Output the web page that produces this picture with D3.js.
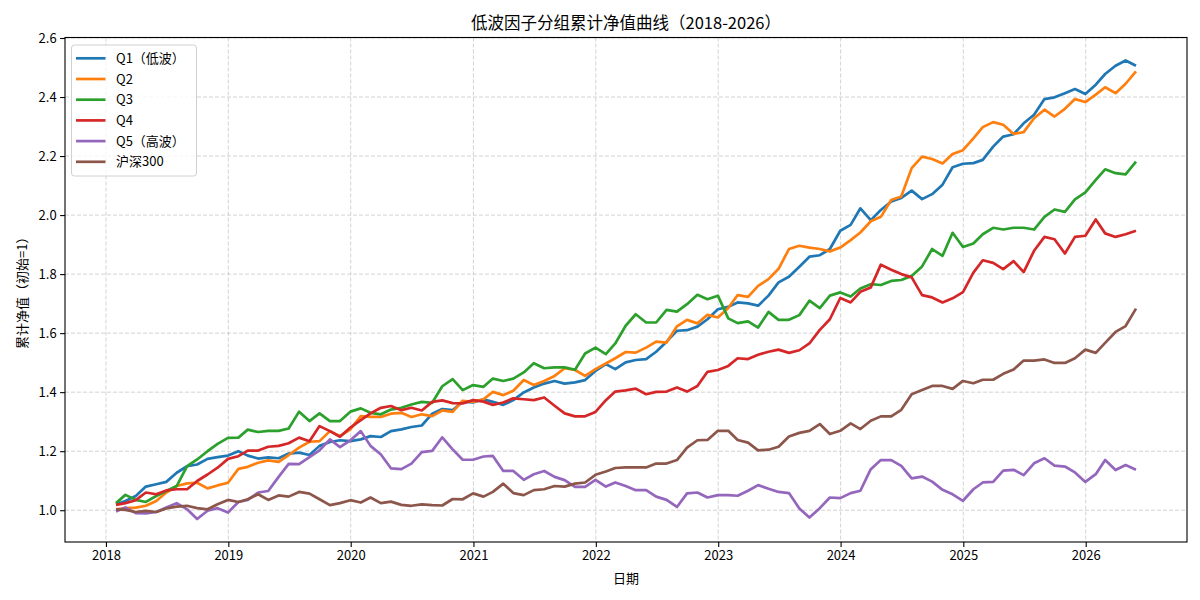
<!DOCTYPE html>
<html><head><meta charset="utf-8">
<script src="https://cdn.jsdelivr.net/npm/d3@7"></script>
<style>
body{margin:0;background:#fff;}
svg{display:block;font-family:"Noto Sans CJK SC","Noto Sans",sans-serif;}
</style></head><body>
<svg id="chart" width="1200" height="600"></svg>
<script>
// ---- data (month-end values, 2018-01 .. 2026-05) ----
const startYear = 2018, startMonthIndex = 0, monthCount = 101;
const q1 = [1.020,1.031,1.048,1.080,1.088,1.096,1.127,1.149,1.155,1.174,1.180,1.185,1.200,1.185,1.175,1.179,1.176,1.192,1.195,1.187,
1.218,1.231,1.237,1.234,1.240,1.251,1.248,1.268,1.274,1.282,1.287,1.327,1.343,1.339,1.368,1.365,1.376,1.367,1.357,1.373,
1.399,1.416,1.429,1.438,1.429,1.433,1.441,1.472,1.495,1.478,1.501,1.509,1.512,1.537,1.571,1.608,1.610,1.622,1.647,1.681,
1.689,1.704,1.701,1.693,1.727,1.772,1.791,1.825,1.859,1.864,1.885,1.947,1.967,2.023,1.983,2.017,2.046,2.058,2.083,2.054,
2.071,2.103,2.162,2.174,2.176,2.187,2.232,2.266,2.274,2.311,2.340,2.393,2.399,2.413,2.427,2.410,2.442,2.478,2.506,2.524,2.506];
const q2 = [1.003,1.007,1.009,1.015,1.031,1.060,1.082,1.091,1.093,1.074,1.084,1.093,1.140,1.147,1.161,1.169,1.164,1.187,1.212,1.232,
1.234,1.268,1.251,1.274,1.319,1.316,1.316,1.327,1.330,1.316,1.325,1.319,1.338,1.333,1.371,1.367,1.376,1.401,1.390,1.405,
1.441,1.424,1.438,1.455,1.481,1.475,1.455,1.478,1.497,1.515,1.536,1.534,1.551,1.571,1.568,1.623,1.645,1.633,1.662,1.653,
1.685,1.729,1.723,1.760,1.783,1.818,1.885,1.896,1.890,1.885,1.877,1.890,1.915,1.941,1.979,1.994,2.051,2.063,2.159,2.198,
2.190,2.175,2.207,2.220,2.260,2.298,2.315,2.306,2.275,2.281,2.328,2.357,2.334,2.360,2.393,2.383,2.408,2.433,2.413,2.445,2.487];
const q3 = [1.024,1.052,1.035,1.028,1.048,1.065,1.082,1.149,1.172,1.200,1.225,1.245,1.246,1.273,1.265,1.269,1.269,1.277,1.334,1.302,
1.328,1.302,1.302,1.334,1.345,1.330,1.325,1.341,1.347,1.358,1.367,1.364,1.420,1.444,1.407,1.424,1.418,1.446,1.438,1.446,
1.467,1.498,1.481,1.484,1.484,1.476,1.531,1.551,1.529,1.565,1.625,1.664,1.636,1.636,1.679,1.673,1.698,1.730,1.715,1.727,
1.650,1.634,1.640,1.619,1.672,1.645,1.645,1.661,1.710,1.685,1.727,1.738,1.724,1.751,1.766,1.763,1.777,1.780,1.794,1.826,
1.885,1.862,1.940,1.892,1.904,1.935,1.957,1.951,1.957,1.957,1.951,1.994,2.019,2.011,2.053,2.077,2.119,2.155,2.142,2.138,2.181];
const q4 = [1.018,1.024,1.034,1.060,1.054,1.067,1.071,1.071,1.099,1.121,1.144,1.174,1.183,1.202,1.202,1.215,1.218,1.227,1.246,1.234,
1.285,1.268,1.249,1.280,1.305,1.328,1.347,1.353,1.339,1.347,1.338,1.367,1.372,1.363,1.362,1.373,1.368,1.357,1.365,1.379,
1.376,1.373,1.382,1.354,1.328,1.318,1.318,1.333,1.373,1.402,1.406,1.412,1.393,1.401,1.402,1.416,1.402,1.421,1.469,1.475,
1.489,1.515,1.512,1.527,1.537,1.544,1.533,1.542,1.565,1.611,1.647,1.719,1.704,1.740,1.755,1.832,1.815,1.800,1.789,1.729,
1.721,1.704,1.718,1.739,1.805,1.847,1.838,1.817,1.844,1.807,1.879,1.926,1.918,1.870,1.926,1.930,1.985,1.938,1.926,1.935,1.947];
const q5 = [0.996,1.009,0.990,0.989,0.994,1.009,1.024,1.003,0.970,0.998,1.007,0.992,1.028,1.035,1.060,1.065,1.113,1.157,1.156,1.180,
1.203,1.240,1.214,1.237,1.268,1.218,1.189,1.142,1.139,1.158,1.197,1.201,1.247,1.206,1.171,1.171,1.182,1.184,1.133,1.133,
1.103,1.122,1.133,1.113,1.102,1.079,1.079,1.103,1.080,1.094,1.082,1.068,1.068,1.046,1.035,1.011,1.057,1.060,1.043,1.051,
1.051,1.049,1.066,1.085,1.073,1.062,1.058,1.006,0.975,1.007,1.043,1.041,1.058,1.066,1.139,1.170,1.170,1.150,1.108,1.114,
1.097,1.069,1.054,1.032,1.071,1.094,1.096,1.134,1.137,1.119,1.159,1.176,1.151,1.148,1.128,1.096,1.122,1.170,1.136,1.153,1.137];
const hs300 = [1.003,1.001,0.994,0.998,0.994,1.006,1.012,1.015,1.007,1.003,1.020,1.035,1.028,1.037,1.054,1.035,1.050,1.046,1.062,1.056,
1.037,1.017,1.024,1.034,1.026,1.043,1.024,1.029,1.018,1.015,1.020,1.017,1.016,1.038,1.037,1.057,1.046,1.062,1.090,1.058,
1.051,1.068,1.071,1.082,1.080,1.090,1.094,1.120,1.131,1.143,1.145,1.145,1.145,1.158,1.158,1.170,1.212,1.237,1.238,1.269,
1.269,1.238,1.229,1.203,1.205,1.215,1.250,1.262,1.269,1.292,1.258,1.269,1.294,1.275,1.303,1.318,1.318,1.340,1.393,1.407,
1.421,1.421,1.411,1.438,1.430,1.442,1.442,1.462,1.477,1.507,1.507,1.511,1.499,1.499,1.515,1.544,1.533,1.567,1.604,1.624,1.683];
const seriesNames = ["Q1（低波）","Q2","Q3","Q4","Q5（高波）","沪深300"];
const seriesColors = ["#1f77b4","#ff7f0e","#2ca02c","#d62728","#9467bd","#8c564b"];
const yTickValues = [1.0,1.2,1.4,1.6,1.8,2.0,2.2,2.4,2.6];
const xTickYears = [2018,2019,2020,2021,2022,2023,2024,2025,2026];
const titleText = "低波因子分组累计净值曲线（2018-2026）";
const xLabel = "日期";
const yLabel = "累计净值（初始=1）";

// ---- layout ----
const W = 1200, H = 600;
const L = 65, R = 1187, T = 37.5, B = 542;
const svg = d3.select("#chart");

const dates = d3.range(monthCount).map(i => new Date(startYear, startMonthIndex + i + 1, 0));
const allSeries = [q1,q2,q3,q4,q5,hs300];

const t0 = +dates[0], t1 = +dates[dates.length-1];
const tp = (t1 - t0) * 0.05;
const x = d3.scaleTime().domain([new Date(t0 - tp), new Date(t1 + tp)]).range([L, R]);
const vmin = d3.min(allSeries, s => d3.min(s)), vmax = d3.max(allSeries, s => d3.max(s));
const vp = (vmax - vmin) * 0.05;
const y = d3.scaleLinear().domain([vmin - vp, vmax + vp]).range([B, T]);

const xTickDates = xTickYears.map(yr => new Date(yr, 0, 1));

// grid
const grid = svg.append("g").attr("stroke", "#b0b0b0").attr("stroke-opacity", 0.7)
  .attr("stroke-width", 0.8).attr("stroke-dasharray", "4,2");
grid.selectAll("line.gx").data(xTickDates).join("line").attr("class","gx")
  .attr("x1", d => x(d)).attr("x2", d => x(d)).attr("y1", T).attr("y2", B);
grid.selectAll("line.gy").data(yTickValues).join("line").attr("class","gy")
  .attr("x1", L).attr("x2", R).attr("y1", d => y(d)).attr("y2", d => y(d));

// lines
const clip = svg.append("clipPath").attr("id","clip").append("rect")
  .attr("x", L).attr("y", T).attr("width", R-L).attr("height", B-T);
const lineGen = d3.line().x((d,i) => x(dates[i])).y(d => y(d));
svg.append("g").attr("clip-path","url(#clip)").selectAll("path").data(allSeries).join("path")
  .attr("d", d => lineGen(d)).attr("fill","none")
  .attr("stroke", (d,i) => seriesColors[i]).attr("stroke-width", 2.7)
  .attr("stroke-linejoin","round").attr("stroke-linecap","butt");

// axes
const xAxis = d3.axisBottom(x).tickValues(xTickDates).tickFormat(d3.timeFormat("%Y"))
  .tickSize(4.9).tickPadding(3.5);
const gx = svg.append("g").attr("transform", `translate(0,${B})`).call(xAxis);
const yAxis = d3.axisLeft(y).tickValues(yTickValues).tickFormat(d3.format(".1f"))
  .tickSize(4.9).tickPadding(3.5);
const gy = svg.append("g").attr("transform", `translate(${L},0)`).call(yAxis);
[gx, gy].forEach(g => {
  g.select(".domain").remove();
  g.selectAll(".tick line").attr("stroke","#000").attr("stroke-width",1.1);
  g.selectAll(".tick text").attr("fill","#000").style("font-size","13px")
    .style("font-family",'"Noto Sans CJK SC","Noto Sans",sans-serif');
});

// spines
svg.append("rect").attr("x", L).attr("y", T).attr("width", R-L).attr("height", B-T)
  .attr("fill","none").attr("stroke","#000").attr("stroke-width",1.1);

// title & labels
svg.append("text").attr("x", (L+R)/2).attr("y", T-9).attr("text-anchor","middle")
  .style("font-size","16.5px").text(titleText);
svg.append("text").attr("x", (L+R)/2).attr("y", 583).attr("text-anchor","middle")
  .style("font-size","13px").text(xLabel);
svg.append("text").attr("transform", `translate(27,${(T+B)/2}) rotate(-90)`).attr("text-anchor","middle")
  .style("font-size","13px").text(yLabel);

// legend
const lg = svg.append("g");
lg.append("rect").attr("x", 71.5).attr("y", 45).attr("width", 125).attr("height", 131)
  .attr("rx", 3).attr("fill","#fff").attr("fill-opacity",0.8).attr("stroke","#d0d0d0").attr("stroke-width",1);
const rows = lg.selectAll("g.row").data(seriesNames).join("g").attr("class","row")
  .attr("transform", (d,i) => `translate(0,${58.3 + i*20.7})`);
rows.append("line").attr("x1", 76).attr("x2", 105.5).attr("y1",0).attr("y2",0)
  .attr("stroke", (d,i) => seriesColors[i]).attr("stroke-width", 2.7);
rows.append("text").attr("x", 116).attr("y", 0).attr("dy","0.36em")
  .style("font-size","13px").text(d => d);
</script>
</body></html>
